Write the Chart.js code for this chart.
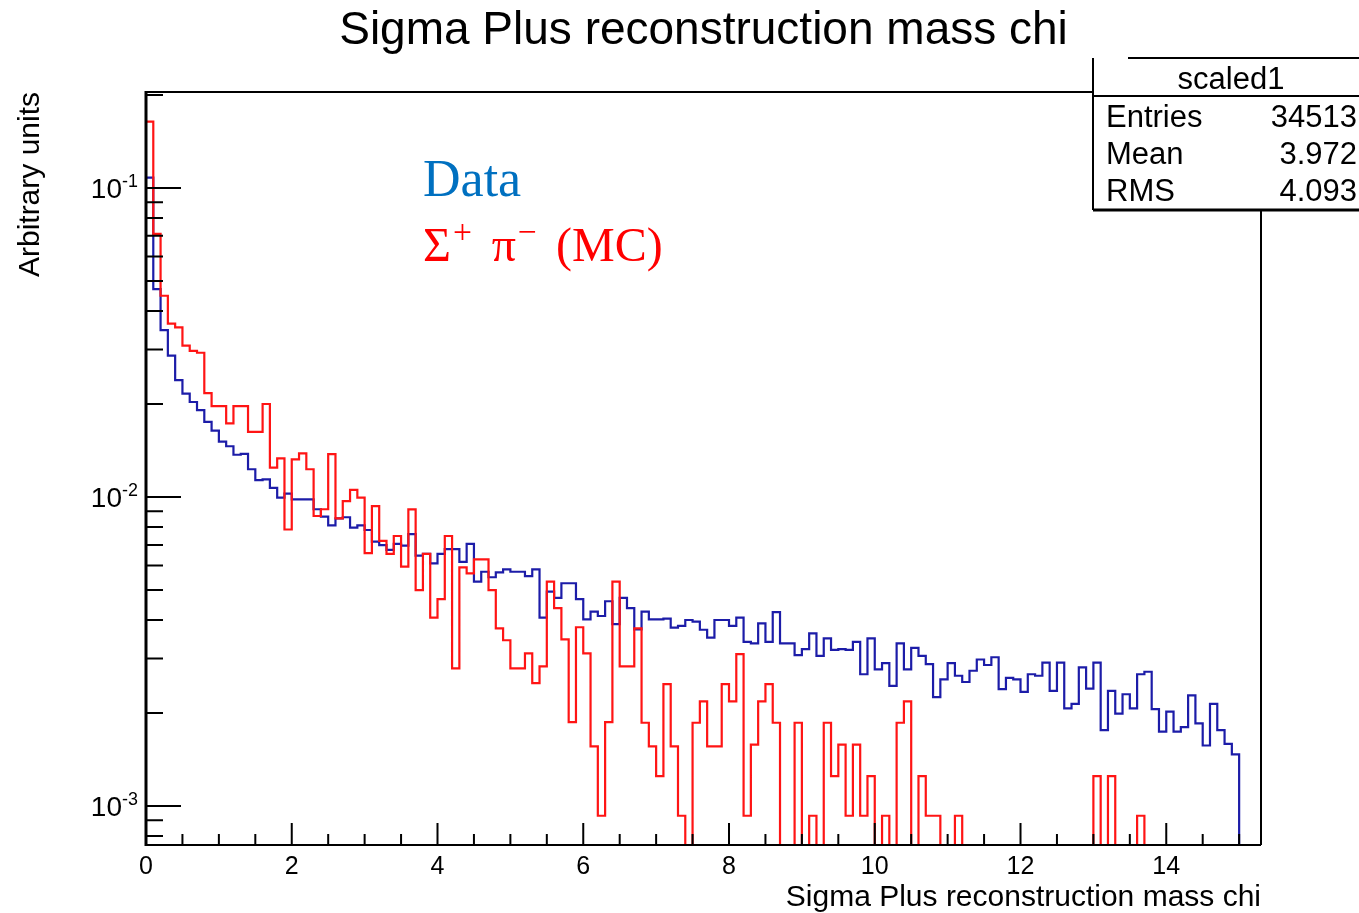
<!DOCTYPE html>
<html>
<head>
<meta charset="utf-8">
<script src="https://cdn.jsdelivr.net/npm/chart.js@4.4.0/dist/chart.umd.min.js"></script>
<style>
  html, body { margin: 0; padding: 0; background: #fff; }
  canvas { display: block; }
</style>
</head>
<body>
<canvas id="myChart" width="1359" height="913"></canvas>
<script>
// histogram binning (chi units) and axis range
const binWidth = 0.1;
const xMax = 15.3;
const yMin = 7.48e-4;
const yMax = 0.2045;

const xTickLabels = ['0', '2', '4', '6', '8', '10', '12', '14'];
const yTickExponents = [-1, -2, -3];

// Data (blue), one value per 0.1 bin, 0 .. 15.3
const dataValues = [
  0.108, 0.0471, 0.0347, 0.0287, 0.0239, 0.0216, 0.0203, 0.0191, 0.0175, 0.0164,
  0.0151, 0.0146, 0.0137, 0.0138, 0.0123, 0.01135, 0.0114, 0.0107, 0.00995, 0.01025,
  0.00983, 0.00983, 0.00983, 0.00913, 0.00864, 0.00809, 0.00853, 0.0086, 0.00796, 0.00809,
  0.00782, 0.00717, 0.00699, 0.00674, 0.00705, 0.00696, 0.00759, 0.00646, 0.00655, 0.0061,
  0.00655, 0.00678, 0.00678, 0.00617, 0.00705, 0.00532, 0.00573, 0.0055, 0.0057, 0.00583,
  0.00573, 0.00573, 0.00555, 0.00583, 0.00407, 0.00494, 0.00472, 0.00526, 0.00526, 0.00467,
  0.00402, 0.00426, 0.00412, 0.0046, 0.00388, 0.00472, 0.00437, 0.00373, 0.00426, 0.00402,
  0.00402, 0.00404, 0.00378, 0.00383, 0.004, 0.00395, 0.00372, 0.00351, 0.004, 0.004,
  0.00383, 0.00407, 0.0034, 0.00336, 0.0039, 0.0034, 0.00424, 0.00336, 0.00336, 0.00308,
  0.00322, 0.00362, 0.00306, 0.00349, 0.0032, 0.00322, 0.0032, 0.0034, 0.00267, 0.00349,
  0.00277, 0.0029, 0.00245, 0.00336, 0.00277, 0.00325, 0.00306, 0.00288, 0.00225, 0.00257,
  0.0029, 0.00264, 0.00252, 0.00274, 0.00298, 0.00286, 0.00303, 0.00239, 0.0026, 0.00257,
  0.00234, 0.00267, 0.00264, 0.00291, 0.00236, 0.00291, 0.00207, 0.00214, 0.00281, 0.0024,
  0.00291, 0.00176, 0.00236, 0.00199, 0.0023, 0.00207, 0.00267, 0.00272, 0.00206, 0.00174,
  0.00202, 0.00174, 0.0018, 0.00228, 0.00185, 0.00157, 0.00214, 0.00176, 0.00159, 0.00147,
  0, 0, 0
];

// Sigma+ pi- Monte Carlo (red), same binning
const mcValues = [
  0.164, 0.071, 0.0448, 0.0364, 0.0354, 0.0309, 0.0297, 0.0293, 0.0217, 0.0197,
  0.0197, 0.0173, 0.0197, 0.0197, 0.01626, 0.01626, 0.02, 0.01245, 0.01334, 0.00785,
  0.01324, 0.01384, 0.0123, 0.00868, 0.00913, 0.01377, 0.00853, 0.0097, 0.01054, 0.00995,
  0.00658, 0.00935, 0.00721, 0.00655, 0.00748, 0.00595, 0.00912, 0.005, 0.00655, 0.00407,
  0.00467, 0.00748, 0.00279, 0.00592, 0.00566, 0.00628, 0.00628, 0.005, 0.00376, 0.00344,
  0.00279, 0.00279, 0.00312, 0.0025, 0.00283, 0.00532, 0.00437, 0.00346, 0.00187, 0.00379,
  0.00312, 0.00156, 0.00093, 0.00187, 0.00532, 0.00283, 0.00283, 0.00376, 0.00186, 0.00156,
  0.00125, 0.00248, 0.00156, 0.00093, 0, 0.00186, 0.00218, 0.00156, 0.00156, 0.00248,
  0.00218, 0.0031, 0.00093, 0.00158, 0.00218, 0.00248, 0.00186, 0, 0, 0.00186,
  0, 0.00093, 0, 0.00186, 0.00125, 0.00158, 0.00093, 0.00158, 0.00093, 0.00125,
  0, 0.00093, 0, 0.00186, 0.00218, 0, 0.00125, 0.00093, 0.00093, 0,
  0, 0.00093, 0, 0, 0, 0, 0, 0, 0, 0,
  0, 0, 0, 0, 0, 0, 0, 0, 0, 0,
  0.00125, 0, 0.00125, 0, 0, 0, 0.00093, 0, 0, 0,
  0, 0, 0, 0, 0, 0, 0, 0, 0, 0,
  0, 0, 0
];

const statsTitle = 'scaled1';
const statsLabels = ['Entries', 'Mean', 'RMS'];
const statsValues = ['34513', '3.972', '4.093'];

const SANS = "'Liberation Sans', Arial, Helvetica, sans-serif";
const SERIF = "'Liberation Serif', 'Times New Roman', serif";

// histogram -> step points (empty bins sit on the frame bottom, like ROOT on log scale)
function toSteps(values) {
  const pts = values.map((v, i) => ({ x: i * binWidth, y: v > 0 ? v : yMin }));
  pts.push({ x: xMax, y: pts[pts.length - 1].y });
  return pts;
}

// draw a run of text pieces, some as superscripts, with optional gap before a piece
function drawRuns(ctx, runs, x, y, size, family, color, supScale) {
  ctx.fillStyle = color;
  ctx.textBaseline = 'alphabetic';
  ctx.textAlign = 'left';
  let cx = x;
  runs.forEach(r => {
    cx += r.gap || 0;
    const s = r.sup ? size * supScale : size;
    ctx.font = s + 'px ' + family;
    ctx.fillText(r.t, cx, r.sup ? y - size * 0.38 : y);
    cx += ctx.measureText(r.t).width;
  });
}

const rootStyle = {
  id: 'rootStyle',
  afterDatasetsDraw(chart) {
    const { ctx, chartArea: a, scales } = chart;
    const xs = scales.x, ys = scales.y;
    ctx.save();
    ctx.strokeStyle = '#000';
    ctx.lineCap = 'butt';

    // frame
    ctx.lineWidth = 2;
    ctx.beginPath();
    ctx.moveTo(a.left, a.top); ctx.lineTo(a.right, a.top);
    ctx.moveTo(a.right, a.top); ctx.lineTo(a.right, a.bottom);
    ctx.moveTo(a.left, a.bottom); ctx.lineTo(a.right, a.bottom);
    ctx.stroke();
    ctx.lineWidth = 3;
    ctx.beginPath();
    ctx.moveTo(a.left, a.top - 1); ctx.lineTo(a.left, a.bottom + 1);
    ctx.stroke();

    // x ticks: major every 2, minor every 0.5
    ctx.lineWidth = 2;
    ctx.beginPath();
    for (let k = 0; k * 0.5 <= xMax; k++) {
      const px = xs.getPixelForValue(k * 0.5);
      const len = k % 4 === 0 ? 22 : 11;
      ctx.moveTo(px, a.bottom); ctx.lineTo(px, a.bottom - len);
    }
    // y ticks: decades + 2..9
    for (let e = -4; e <= 0; e++) {
      for (let m = 1; m <= 9; m++) {
        const v = m * Math.pow(10, e);
        if (v < yMin || v > yMax) continue;
        const py = ys.getPixelForValue(v);
        const len = m === 1 ? 35 : 17;
        ctx.moveTo(a.left, py); ctx.lineTo(a.left + len, py);
      }
    }
    ctx.stroke();

    // y tick labels 10^n
    yTickExponents.forEach(e => {
      const py = ys.getPixelForValue(Math.pow(10, e));
      ctx.font = '18px ' + SANS;
      const wSup = ctx.measureText(String(e)).width;
      ctx.font = '28px ' + SANS;
      const wBase = ctx.measureText('10').width;
      const x0 = a.left - 8 - wSup - wBase;
      drawRuns(ctx, [{ t: '10' }, { t: String(e), sup: true }], x0, py + 10, 28, SANS, '#000', 0.64);
    });

    // axis titles
    ctx.fillStyle = '#000';
    ctx.font = '30px ' + SANS;
    ctx.textAlign = 'right';
    ctx.textBaseline = 'alphabetic';
    ctx.fillText('Sigma Plus reconstruction mass chi', a.right, 906);
    ctx.save();
    ctx.translate(39, a.top);
    ctx.rotate(-Math.PI / 2);
    ctx.textAlign = 'right';
    ctx.fillText('Arbitrary units', 0, 0);
    ctx.restore();

    // title
    ctx.font = '46px ' + SANS;
    ctx.textAlign = 'center';
    ctx.fillText('Sigma Plus reconstruction mass chi', (a.left + a.right) / 2, 44);

    // overlaid legend text
    ctx.font = '52px ' + SERIF;
    ctx.textAlign = 'left';
    ctx.fillStyle = '#0070C0';
    ctx.fillText('Data', 423, 196);
    drawRuns(ctx, [
      { t: '\u03A3' }, { t: '+', sup: true, gap: 2 },
      { t: '\u03C0', gap: 20 }, { t: '\u2212', sup: true, gap: 2 },
      { t: '(MC)', gap: 19 }
    ], 423, 261, 48, SERIF, '#FF0000', 0.7);

    // stats box
    const bx = 1093, by = 58, bBottom = 210, bRight = chart.width;
    ctx.fillStyle = '#fff';
    ctx.fillRect(bx, by, bRight - bx, bBottom - by);
    ctx.strokeStyle = '#000';
    ctx.lineWidth = 2;
    ctx.beginPath();
    ctx.moveTo(1128, by); ctx.lineTo(bRight, by);
    ctx.moveTo(bx, by); ctx.lineTo(bx, bBottom);
    ctx.moveTo(bx, 96); ctx.lineTo(bRight, 96);
    ctx.moveTo(a.right, bBottom); ctx.lineTo(a.right, a.bottom);
    ctx.stroke();
    ctx.lineWidth = 3;
    ctx.beginPath();
    ctx.moveTo(bx, bBottom); ctx.lineTo(bRight, bBottom);
    ctx.stroke();

    ctx.fillStyle = '#000';
    ctx.font = '31px ' + SANS;
    ctx.textAlign = 'center';
    ctx.fillText(statsTitle, 1231, 89);
    statsLabels.forEach((lab, i) => {
      const yy = 127 + i * 37;
      ctx.textAlign = 'left';
      ctx.fillText(lab, 1106, yy);
      ctx.textAlign = 'right';
      ctx.fillText(statsValues[i], 1357, yy);
    });
    ctx.restore();
  }
};

const ctx = document.getElementById('myChart');
const chart = new Chart(ctx, {
  type: 'line',
  data: {
    datasets: [{
      label: 'Data',
      data: toSteps(dataValues),
      borderColor: '#1c1ca8',
      borderWidth: 2.2,
      stepped: true,
      pointRadius: 0,
      fill: false,
      order: 2
    }, {
      label: 'Sigma+ pi- (MC)',
      data: toSteps(mcValues),
      borderColor: '#ff1414',
      borderWidth: 2.2,
      stepped: true,
      pointRadius: 0,
      fill: false,
      order: 1
    }]
  },
  options: {
    responsive: false,
    animation: false,
    devicePixelRatio: 1,
    layout: { padding: { top: 92, right: 98, left: 0, bottom: 0 } },
    plugins: { legend: { display: false }, tooltip: { enabled: false }, title: { display: false } },
    scales: {
      x: {
        type: 'linear',
        min: 0,
        max: xMax,
        grid: { display: false, drawTicks: false },
        border: { display: false },
        ticks: {
          stepSize: 2,
          includeBounds: false,
          autoSkip: false,
          maxRotation: 0,
          padding: 7,
          color: '#000',
          font: { family: SANS, size: 25 },
          callback: (v) => xTickLabels[v / 2] || ''
        },
        afterFit: (s) => { s.height = 68; }
      },
      y: {
        type: 'logarithmic',
        min: yMin,
        max: yMax,
        grid: { display: false, drawTicks: false },
        border: { display: false },
        ticks: { display: false },
        afterFit: (s) => { s.width = 146; }
      }
    }
  },
  plugins: [rootStyle]
});
</script>
</body>
</html>
